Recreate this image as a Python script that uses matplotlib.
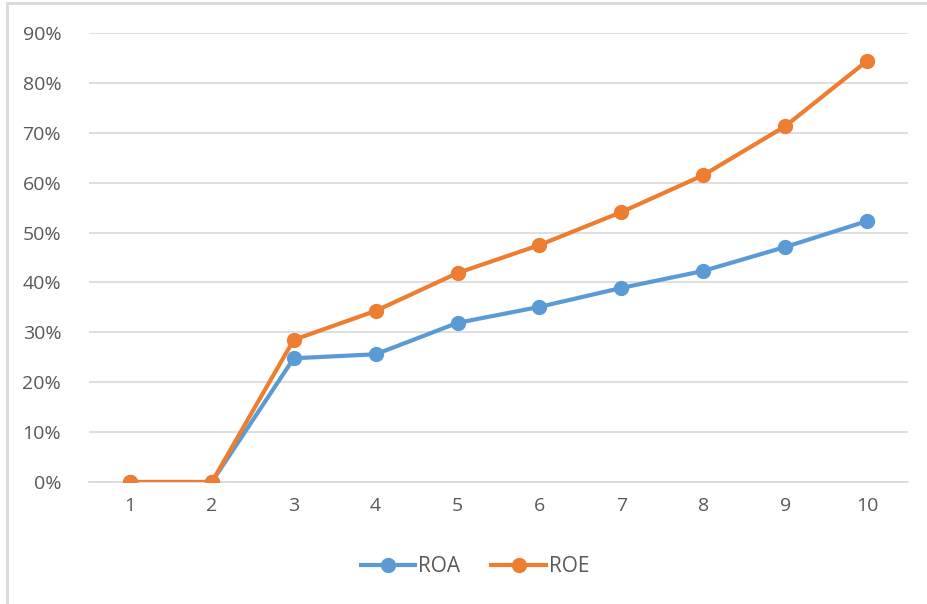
import numpy as np
import matplotlib.pyplot as plt
from matplotlib.patches import Rectangle
from matplotlib.ticker import PercentFormatter

categories = ['1', '2', '3', '4', '5', '6', '7', '8', '9', '10']
roa = [0.0, 0.0, 24.8, 25.6, 31.9, 35.1, 38.9, 42.3, 47.1, 52.3]
roe = [0.0, 0.0, 28.5, 34.3, 41.9, 47.5, 54.1, 61.5, 71.3, 84.4]

plt.rcParams['font.family'] = ['Open Sans', 'DejaVu Sans']

fig = plt.figure(figsize=(9.27, 6.04), dpi=100)
ax = fig.add_axes([89 / 927, 122 / 604, 819 / 927, 449 / 604])

x = np.arange(1, len(categories) + 1)
ax.plot(x, roa, color='#5B9BD5', lw=3, marker='o', ms=10, label='ROA', zorder=3)
ax.plot(x, roe, color='#ED7D31', lw=3, marker='o', ms=10, label='ROE', zorder=4)

ax.set_xlim(0.5, len(categories) + 0.5)
ax.set_ylim(0, 90)
ax.set_yticks(np.arange(0, 91, 10))
ax.yaxis.set_major_formatter(PercentFormatter(decimals=0))
ax.set_xticks(x)
ax.set_xticklabels(categories)
ax.grid(axis='y', color='#D9D9D9', lw=1.2)
ax.set_axisbelow(True)
for s in ['top', 'right', 'left']:
    ax.spines[s].set_visible(False)
ax.spines['bottom'].set_color('#D9D9D9')
ax.spines['bottom'].set_linewidth(1.2)
ax.tick_params(axis='both', length=0, colors='#595959', labelsize=14)
ax.tick_params(axis='y', pad=20)
ax.tick_params(axis='x', pad=11)

fig.legend(loc='center', bbox_to_anchor=(475 / 927, 1 - 567 / 604), ncol=2,
           frameon=False, fontsize=15, labelcolor='#595959', handlelength=2.6,
           handletextpad=0.15, columnspacing=1.5)

fig.patches.append(Rectangle((7 / 927, -0.1), 1.2, 1 - 3 / 604 + 0.1,
                             transform=fig.transFigure, fill=False,
                             edgecolor='#D9D9D9', lw=2))

fig.savefig('out.png', dpi=100)
